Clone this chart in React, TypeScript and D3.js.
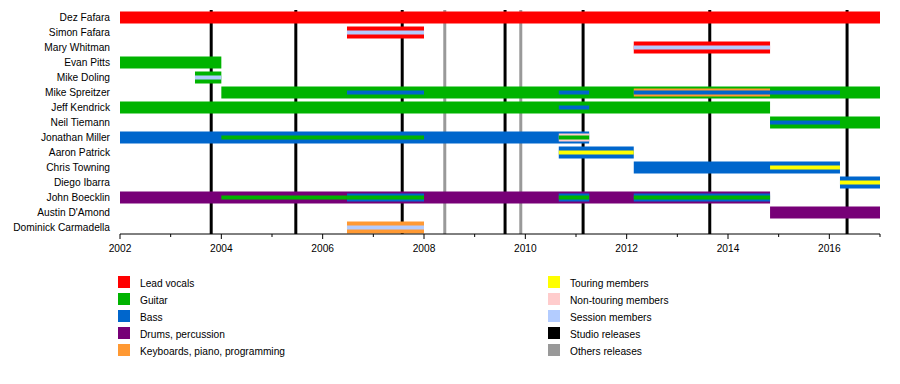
import * as d3 from 'd3';

// band members, top to bottom
const members = [
  'Dez Fafara', 'Simon Fafara', 'Mary Whitman', 'Evan Pitts', 'Mike Doling',
  'Mike Spreitzer', 'Jeff Kendrick', 'Neil Tiemann', 'Jonathan Miller', 'Aaron Patrick',
  'Chris Towning', 'Diego Ibarra', 'John Boecklin', "Austin D'Amond", 'Dominick Carmadella',
];

const roleColors: Record<string, string> = {
  vocals: '#ff0000',
  guitar: '#00b300',
  bass: '#0066cc',
  drums: '#770077',
  keys: '#ff9933',
  touring: '#ffff00',
  nontouring: '#ffcccc',
  session: '#b3ccff',
  studio: '#000000',
  other: '#999999',
};

const legendLeft = [
  ['vocals', 'Lead vocals'],
  ['guitar', 'Guitar'],
  ['bass', 'Bass'],
  ['drums', 'Drums, percussion'],
  ['keys', 'Keyboards, piano, programming'],
];
const legendRight = [
  ['touring', 'Touring members'],
  ['nontouring', 'Non-touring members'],
  ['session', 'Session members'],
  ['studio', 'Studio releases'],
  ['other', 'Others releases'],
];

const studioReleases = [2003.8, 2005.47, 2007.57, 2009.6, 2011.14, 2013.64, 2016.35];
const otherReleases = [2008.41, 2009.91];

// [member, role, from, to, width] — width 3 = full bar, 2 = middle stripe, 1 = thin stripe
const periods: [string, string, number, number, number][] = [
  ['Dez Fafara', 'vocals', 2002, 2017, 3],
  ['Simon Fafara', 'vocals', 2006.48, 2008.0, 3],
  ['Simon Fafara', 'session', 2006.48, 2008.0, 1],
  ['Mary Whitman', 'vocals', 2012.14, 2014.83, 3],
  ['Mary Whitman', 'session', 2012.14, 2014.83, 1],
  ['Evan Pitts', 'guitar', 2002, 2004.0, 3],
  ['Mike Doling', 'guitar', 2003.48, 2004.0, 3],
  ['Mike Doling', 'session', 2003.48, 2004.0, 1],
  ['Mike Spreitzer', 'guitar', 2004.0, 2017, 3],
  ['Mike Spreitzer', 'bass', 2006.48, 2008.0, 1],
  ['Mike Spreitzer', 'bass', 2010.66, 2011.26, 1],
  ['Mike Spreitzer', 'keys', 2012.14, 2014.83, 2],
  ['Mike Spreitzer', 'bass', 2012.14, 2016.21, 1],
  ['Jeff Kendrick', 'guitar', 2002, 2014.83, 3],
  ['Jeff Kendrick', 'bass', 2010.66, 2011.26, 1],
  ['Neil Tiemann', 'guitar', 2014.83, 2017, 3],
  ['Neil Tiemann', 'bass', 2014.83, 2016.21, 1],
  ['Jonathan Miller', 'bass', 2002, 2011.26, 3],
  ['Jonathan Miller', 'guitar', 2004.0, 2008.0, 1],
  ['Jonathan Miller', 'nontouring', 2010.66, 2011.26, 2],
  ['Jonathan Miller', 'guitar', 2010.66, 2011.26, 1],
  ['Aaron Patrick', 'bass', 2010.66, 2012.14, 3],
  ['Aaron Patrick', 'touring', 2010.66, 2012.14, 1],
  ['Chris Towning', 'bass', 2012.14, 2016.21, 3],
  ['Chris Towning', 'touring', 2014.83, 2016.21, 1],
  ['Diego Ibarra', 'bass', 2016.21, 2017, 3],
  ['Diego Ibarra', 'touring', 2016.21, 2017, 1],
  ['John Boecklin', 'drums', 2002, 2014.83, 3],
  ['John Boecklin', 'guitar', 2004.0, 2006.48, 1],
  ['John Boecklin', 'bass', 2006.48, 2008.0, 2],
  ['John Boecklin', 'guitar', 2006.48, 2008.0, 1],
  ['John Boecklin', 'bass', 2010.66, 2011.26, 2],
  ['John Boecklin', 'guitar', 2010.66, 2011.26, 1],
  ['John Boecklin', 'bass', 2012.14, 2014.83, 2],
  ['John Boecklin', 'guitar', 2012.14, 2014.83, 1],
  ["Austin D'Amond", 'drums', 2014.83, 2017, 3],
  ['Dominick Carmadella', 'keys', 2006.48, 2008.0, 3],
  ['Dominick Carmadella', 'session', 2006.48, 2008.0, 1],
];

const width = 900;
const height = 384;
const font = '"Liberation Sans", Arial, sans-serif';
const fs = 10.2;

export default function App() {
  const x = d3.scaleLinear().domain([2002, 2017]).range([120, 880]);
  const y = d3.scaleBand().domain(members).range([10, 235]);
  const axisY = 234;
  const barH = 12;
  const majorTicks = d3.range(2002, 2017, 2);
  const minorTicks = d3.range(2002, 2018, 1);

  return (
    <svg
      width={width}
      height={height}
      style={{ position: 'absolute', left: 0, top: 0, background: '#fff' }}
      fontFamily={font}
    >
      {/* release markers sit behind the bars */}
      {studioReleases.map((d, i) => (
        <line key={'s' + i} x1={x(d)} x2={x(d)} y1={10} y2={axisY} stroke={roleColors.studio} strokeWidth={3} />
      ))}
      {otherReleases.map((d, i) => (
        <line key={'o' + i} x1={x(d)} x2={x(d)} y1={10} y2={axisY} stroke={roleColors.other} strokeWidth={3} />
      ))}

      {periods.map(([m, role, from, to, w], i) => {
        const h = (barH / 3) * w;
        const cy = (y(m) as number) + y.bandwidth() / 2;
        return (
          <rect
            key={i}
            x={x(from)}
            y={cy - h / 2}
            width={x(to) - x(from)}
            height={h}
            fill={roleColors[role]}
          />
        );
      })}

      {members.map((m) => (
        <text
          key={m}
          x={110}
          y={(y(m) as number) + y.bandwidth() / 2}
          dy="0.35em"
          textAnchor="end"
          fontSize={fs}
          fill="#000"
        >
          {m}
        </text>
      ))}

      {/* time axis */}
      <line x1={120} x2={880} y1={axisY} y2={axisY} stroke="#000" />
      {minorTicks.map((t) => (
        <line key={'t' + t} x1={x(t)} x2={x(t)} y1={axisY} y2={axisY + (t % 2 === 0 ? 5 : 3)} stroke="#000" />
      ))}
      {majorTicks.map((t) => (
        <text key={'l' + t} x={x(t)} y={axisY + 18} textAnchor="middle" fontSize={fs} fill="#000">
          {t}
        </text>
      ))}

      {/* legend */}
      {legendLeft.map(([k, label], i) => (
        <g key={k} transform={`translate(118,${276 + i * 17})`}>
          <rect width={12} height={12} fill={roleColors[k]} />
          <text x={22} y={7} dy="0.35em" fontSize={fs} fill="#000">{label}</text>
        </g>
      ))}
      {legendRight.map(([k, label], i) => (
        <g key={k} transform={`translate(548,${276 + i * 17})`}>
          <rect width={12} height={12} fill={roleColors[k]} />
          <text x={22} y={7} dy="0.35em" fontSize={fs} fill="#000">{label}</text>
        </g>
      ))}
    </svg>
  );
}
